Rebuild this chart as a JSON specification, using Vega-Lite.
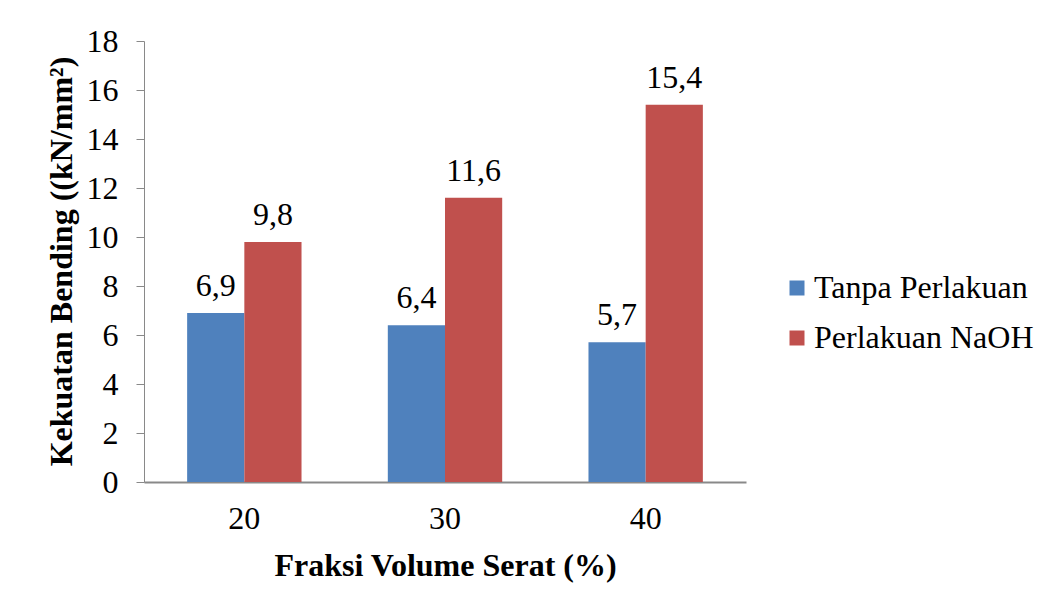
{
  "$schema": "https://vega.github.io/schema/vega-lite/v6.json",
  "width": 602,
  "height": 441,
  "autosize": {"type": "none"},
  "padding": {"left": 144, "top": 41, "right": 308, "bottom": 125},
  "background": "white",
  "config": {
    "font": "Liberation Serif",
    "axis": {"labelFont": "Liberation Serif", "titleFont": "Liberation Serif"},
    "legend": {"labelFont": "Liberation Serif", "padding": 0},
    "text": {"font": "Liberation Serif"},
    "view": {"stroke": null},
    "locale": {"number": {"decimal": ",", "thousands": ".", "grouping": [3], "currency": ["", ""]}}
  },
  "data": {
    "values": [
      {"fraksi": "20", "series": "Tanpa Perlakuan", "value": 6.9},
      {"fraksi": "20", "series": "Perlakuan NaOH", "value": 9.8},
      {"fraksi": "30", "series": "Tanpa Perlakuan", "value": 6.4},
      {"fraksi": "30", "series": "Perlakuan NaOH", "value": 11.6},
      {"fraksi": "40", "series": "Tanpa Perlakuan", "value": 5.7},
      {"fraksi": "40", "series": "Perlakuan NaOH", "value": 15.4}
    ]
  },
  "encoding": {
    "x": {
      "field": "fraksi", "type": "nominal",
      "scale": {"paddingInner": 0.43, "paddingOuter": 0.215},
      "axis": {
        "title": "Fraksi Volume Serat (%)",
        "titleFontSize": 32, "titleFontWeight": "bold", "titleColor": "black",
        "titleY": 93, "titleBaseline": "alphabetic",
        "labelAngle": 0, "labelFontSize": 32, "labelColor": "black", "labelPadding": 21,
        "ticks": false, "domainColor": "#898989", "domainWidth": 2, "grid": false
      }
    },
    "xOffset": {"field": "series", "type": "nominal", "sort": ["Tanpa Perlakuan", "Perlakuan NaOH"], "scale": {"paddingInner": 0}},
    "y": {
      "field": "value", "type": "quantitative",
      "scale": {"domain": [0, 18], "nice": false},
      "axis": {
        "title": "Kekuatan Bending ((kN/mm²)",
        "titleFontSize": 32, "titleFontWeight": "bold", "titleColor": "black",
        "titleX": -73, "titleY": 220, "titleBaseline": "alphabetic", "titleAngle": -90, "titleAlign": "center",
        "values": [0, 2, 4, 6, 8, 10, 12, 14, 16, 18],
        "labelFontSize": 32, "labelColor": "black", "labelPadding": 18,
        "tickSize": 8, "tickColor": "#898989", "domainColor": "#898989", "grid": false
      }
    },
    "color": {
      "field": "series", "type": "nominal",
      "sort": ["Tanpa Perlakuan", "Perlakuan NaOH"],
      "scale": {"domain": ["Tanpa Perlakuan", "Perlakuan NaOH"], "range": ["#4F81BD", "#C0504D"]},
      "legend": {
        "title": null, "orient": "none", "legendX": 637, "legendY": 231,
        "symbolType": "square", "symbolSize": 225, "symbolStrokeWidth": 0,
        "labelFontSize": 32, "labelColor": "black", "labelLimit": 400,
        "rowPadding": 18, "labelOffset": 1
      }
    }
  },
  "layer": [
    {"mark": {"type": "bar"}},
    {
      "mark": {"type": "text", "baseline": "alphabetic", "dy": -17, "fontSize": 32, "color": "black", "font": "Liberation Serif"},
      "encoding": {"text": {"field": "value", "type": "quantitative", "format": ".1f"}, "color": {"value": "black"}}
    }
  ]
}
